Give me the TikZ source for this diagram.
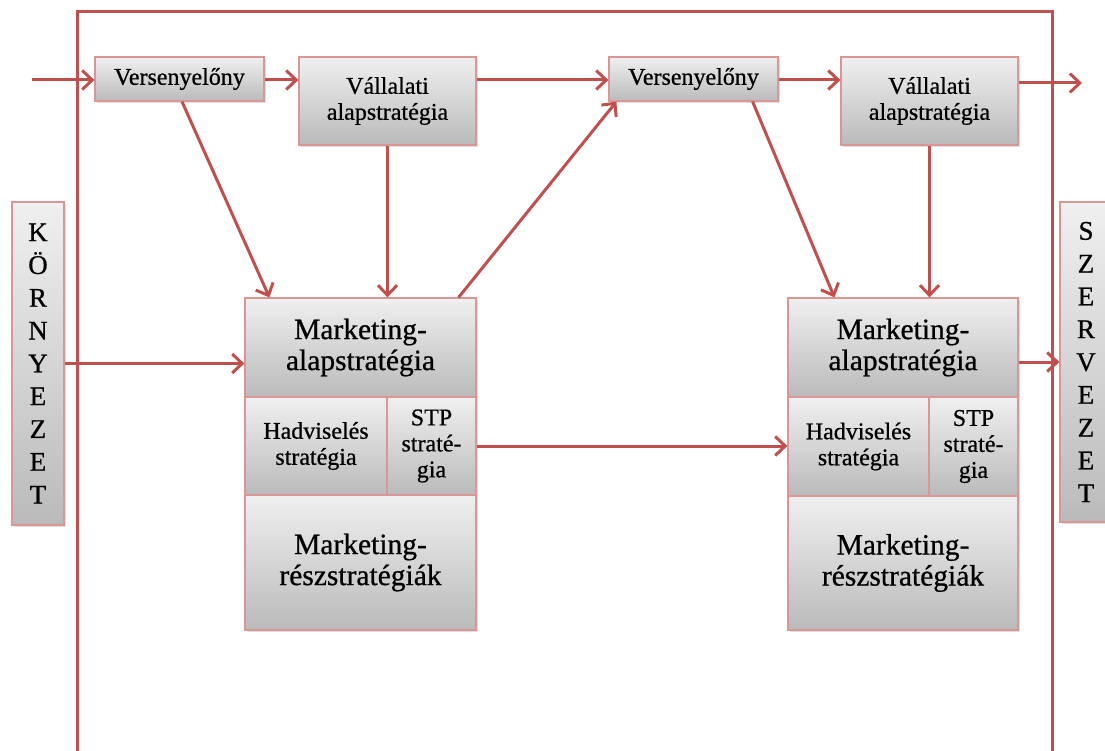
\documentclass[tikz,border=0pt]{standalone}
\usepackage{fontspec}
\setmainfont{Liberation Serif}[FakeBold=0.7]
\usetikzlibrary{arrows.meta,shadows,calc}
\definecolor{linered}{HTML}{C0504D}
\definecolor{boxred}{HTML}{D99694}
\tikzset{
  gbox/.style={draw=boxred, line width=1.2pt, top color=black!6, bottom color=black!27,
    inner sep=0pt, align=center, anchor=center,
    drop shadow={opacity=0.25, shadow xshift=1.5pt, shadow yshift=-2pt}},
  smallfont/.style={font=\fontsize{24}{26}\selectfont},
  bigfont/.style={font=\fontsize{29.5}{31}\selectfont},
  vfont/.style={font=\fontsize{27}{32.8}\selectfont},
  conn/.style={draw=linered, line width=3pt, -{Straight Barb[length=10pt,width=19pt]}},
  frameline/.style={draw=linered, line width=3pt},
}
\begin{document}
\begin{tikzpicture}[x=1pt,y=-1pt]
\useasboundingbox (0,0) rectangle (1105,751);
% outer frame
\draw[frameline] (77,751) -- (77,12) -- (1052,12) -- (1052,751);

% side boxes
\node[gbox, vfont, minimum width=52pt, minimum height=323pt] (K) at (38,363.5)
  {K\\Ö\\R\\N\\Y\\E\\Z\\E\\T};
\node[gbox, vfont, minimum width=52pt, minimum height=320pt] (S) at (1086,362)
  {S\\Z\\E\\R\\V\\E\\Z\\E\\T};

% top row
\node[gbox, smallfont, minimum width=169pt, minimum height=44pt] (V1) at (179.5,79) {Versenyelőny};
\node[gbox, smallfont, minimum width=177pt, minimum height=88pt] (VA1) at (387.5,101) {Vállalati\\alapstratégia};
\node[gbox, smallfont, minimum width=169pt, minimum height=44pt] (V2) at (693.5,79) {Versenyelőny};
\node[gbox, smallfont, minimum width=177pt, minimum height=88pt] (VA2) at (929.5,101) {Vállalati\\alapstratégia};

% marketing block 1
\node[gbox, bigfont, minimum width=231pt, minimum height=99pt] (M1top) at (360.5,347.5) {Marketing-\\alapstratégia};
\node[gbox, smallfont, minimum width=142pt, minimum height=98pt] (M1had) at (316,446) {Hadviselés\\stratégia};
\node[gbox, smallfont, minimum width=89pt, minimum height=98pt] (M1stp) at (431.5,446) {STP\\straté-\\gia};
\node[gbox, bigfont, minimum width=231pt, minimum height=135pt] (M1bot) at (360.5,562.5) {Marketing-\\részstratégiák};

% marketing block 2
\node[gbox, bigfont, minimum width=230pt, minimum height=99pt] (M2top) at (903,347.5) {Marketing-\\alapstratégia};
\node[gbox, smallfont, minimum width=141pt, minimum height=99pt] (M2had) at (858.5,446.5) {Hadviselés\\stratégia};
\node[gbox, smallfont, minimum width=89pt, minimum height=99pt] (M2stp) at (973.5,446.5) {STP\\straté-\\gia};
\node[gbox, bigfont, minimum width=230pt, minimum height=134pt] (M2bot) at (903,563) {Marketing-\\részstratégiák};

% free ends
\coordinate (in1) at (32,80);
\coordinate (out1) at (1082,83);

% connectors
\draw[conn] (in1) -- (in1 -| V1.west);
\draw[conn] (V1.east |- in1) -- (in1 -| VA1.west);
\draw[conn] (VA1.east |- in1) -- (in1 -| V2.west);
\draw[conn] (V2.east |- in1) -- (in1 -| VA2.west);
\draw[conn] (VA2.east |- out1) -- (out1);

\draw[conn] ($(V1.south)+(2.5,0)$) -- ($(M1top.north west)+(25,0)$);
\draw[conn] (VA1.south) -- (VA1.south |- M1top.north);
\draw[conn] ($(M1top.north east)+(-18,0)$) -- ($(V2.south west)+(8,0)$);
\draw[conn] ($(V2.south east)+(-26,0)$) -- ($(M2top.north west)+(47,0)$);
\draw[conn] (VA2.south) -- (VA2.south |- M2top.north);

\draw[conn] (K.east) -- (K.east -| M1top.west);
\draw[conn] (M1stp.east) -- (M1stp.east -| M2had.west);
\draw[conn] (S.west -| M2top.east) -- (S.west);
\end{tikzpicture}
\end{document}
